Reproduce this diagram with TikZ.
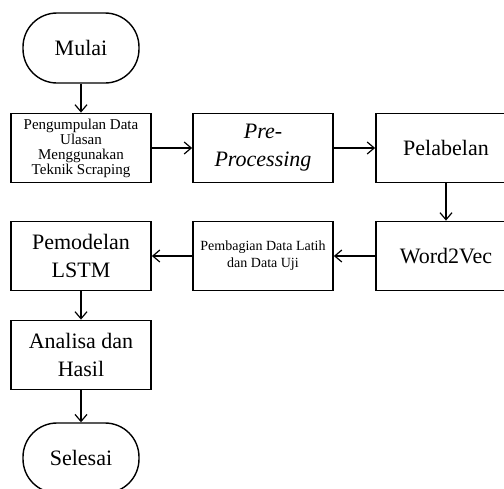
\documentclass[tikz,border=0pt]{standalone}
\usepackage{fontspec}
\setmainfont{Liberation Serif}
\usetikzlibrary{arrows.meta}

\tikzset{
  proc/.style = {draw, line width=1.8pt, minimum width=140pt, minimum height=69pt, align=center, inner sep=2pt},
  term/.style = {draw, line width=1.4pt, rounded corners=34pt, minimum width=116pt, minimum height=70pt, align=center},
  big/.style = {font=\fontsize{22}{28}\selectfont},
  small/.style = {font=\fontsize{15}{15}\selectfont},
  flow/.style = {line width=1.2pt, -{Straight Barb[length=7pt,width=12pt]}}
}

\begin{document}
\begin{tikzpicture}[x=1pt, y=-1pt]
% Picture frame
\useasboundingbox (0,0) rectangle (504,488);
\clip (0,0) rectangle (504,488);

% Create terminals
\node[term, big] (mulai) at (81,48) {Mulai};
\node[term, big] (selesai) at (81,458) {Selesai};

% Create top row
\node[proc, small] (kumpul) at (81,148) {Pengumpulan Data\\Ulasan\\Menggunakan\\Teknik Scraping};
\node[proc, big] (prepro) at (263,148) {\textit{Pre-}\\\textit{Processing}};
\node[proc, big] (pelabelan) at (446,148) {Pelabelan};

% Create bottom rows
\node[proc, big] (w2v) at (446,256) {Word2Vec};
\node[proc, font=\fontsize{14}{17}\selectfont] (bagi) at (263,256) {Pembagian Data Latih\\dan Data Uji};
\node[proc, big] (lstm) at (81,256) {Pemodelan\\LSTM};
\node[proc, big] (hasil) at (81,355) {Analisa dan\\Hasil};

% Connect steps
\draw[flow] (mulai) -- (kumpul);
\draw[flow] (kumpul) -- (prepro);
\draw[flow] (prepro) -- (pelabelan);
\draw[flow] (pelabelan) -- (w2v);
\draw[flow] (w2v) -- (bagi);
\draw[flow] (bagi) -- (lstm);
\draw[flow] (lstm) -- (hasil);
\draw[flow] (hasil) -- (selesai);

\end{tikzpicture}
\end{document}
